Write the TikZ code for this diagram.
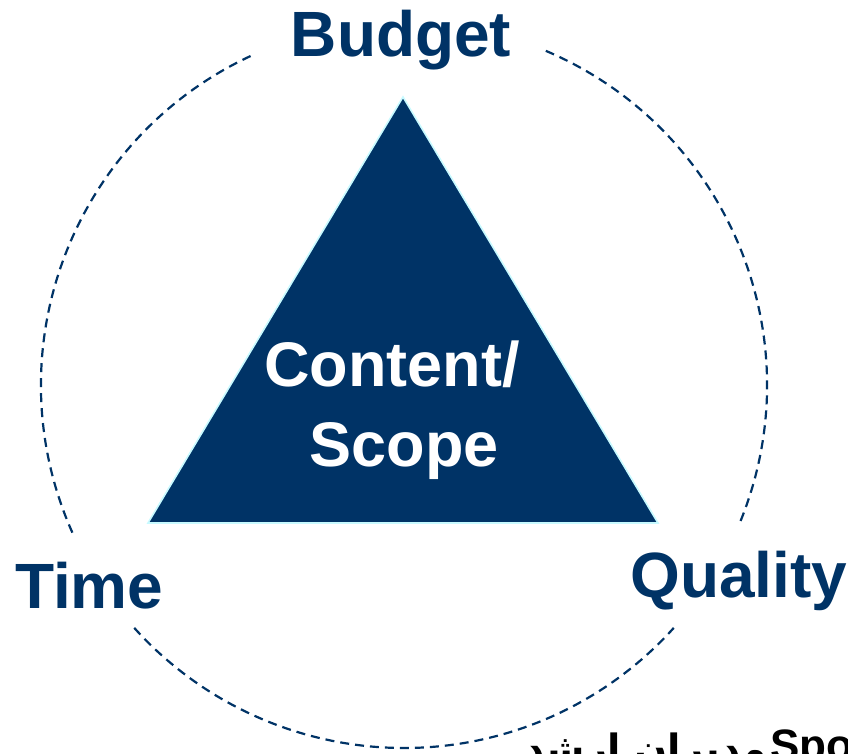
\documentclass[tikz,border=0pt]{standalone}
\usepackage{fontspec}
\setmainfont{Liberation Sans}
\newfontfamily\persianfont[Script=Arabic]{DejaVu Sans}
\TeXXeTstate=1
\definecolor{navy}{RGB}{0,51,102}
\definecolor{edgecyan}{RGB}{200,250,255}
\tikzset{
  corner/.style={font=\bfseries\fontsize{64}{70}\selectfont, text=navy, inner sep=0pt},
  inside/.style={font=\bfseries\fontsize{63}{70}\selectfont, text=white, inner sep=0pt, anchor=base},
  foot/.style={font=\bfseries\fontsize{44}{52}\selectfont, text=black, inner sep=0pt},
  ring/.style={navy, line width=2.2pt, dash pattern=on 9pt off 6pt}
}
\begin{document}
\begin{tikzpicture}[x=1pt,y=1pt]
\useasboundingbox (0,0) rectangle (848,753);
\clip (0,0) rectangle (848,753);

% Dashed ring (broken at the three labels)
\coordinate (hub) at (404,368);
\draw[ring] (hub) ++(115:363) arc[start angle=115, end angle=204, radius=363];
\draw[ring] (hub) ++(222:363) arc[start angle=222, end angle=318, radius=363];
\draw[ring] (hub) ++(338:363) arc[start angle=338, end angle=427, radius=363];

% Triangle
\draw[fill=navy, draw=edgecyan, line width=1.6pt, line join=miter]
  (403,656) -- (148,230) -- (658,230) -- cycle;
\node[inside] (content) at (392,366) {Content/};
\node[inside] (scope) at (404,287) {Scope};

% Corner labels
\node[corner, anchor=base] (budget) at (401,696) {Budget};
\node[corner, anchor=base west] (time) at (15,145) {Time};
\node[corner, anchor=base west] (quality) at (630,156) {Quality};

% Bottom line (cut by the page edge)
\node[foot, anchor=base west] (sponsor) at (770,-7) {Sponsor};
\node[foot, anchor=base east, font=\bfseries\fontsize{39}{46}\selectfont]
  (senior) at (767,-9) {\persianfont\beginR مدیران ارشد\endR};

\end{tikzpicture}
\end{document}
